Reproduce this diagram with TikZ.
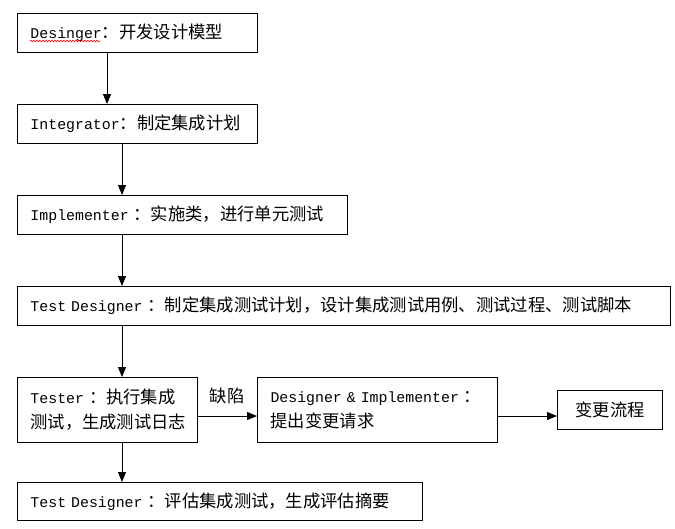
\documentclass[tikz,border=0pt]{standalone}
\usepackage{fontspec}
\setmainfont{Liberation Mono}[Scale=0.86]
\newfontfamily\cjk{Noto Sans CJK SC}
\usetikzlibrary{arrows.meta}
\usetikzlibrary{decorations.pathmorphing}
\tikzset{   stage/.style = {rectangle, draw = black, line width = 1pt, fill = white, anchor = north west, inner xsep = 13pt, inner ysep = 0pt, align = left, font = \fontsize{17.3}{25}\selectfont},
            flow/.style = {-{Triangle[length = 10pt, width = 8pt]}, line width = 1pt}}

\begin{document}
\begin{tikzpicture}[x = 1pt, y = -1pt]
                        \useasboundingbox (0, 0) rectangle (675, 528);
                        \node[stage, text width = 214pt, minimum height = 39pt] (design) at (17, 13) {Desinger{\cjk ：开发设计模型}};
                        \node[stage, text width = 214pt, minimum height = 39pt] (integ) at (17, 104) {Integrator{\cjk ：制定集成计划}};
                        \node[stage, text width = 304pt, minimum height = 39pt] (impl) at (17, 195) {Implementer {\cjk ：实施类，进行单元测试}};
                        \node[stage, text width = 627pt, minimum height = 39pt] (plan) at (17, 286) {Test Designer {\cjk ：制定集成测试计划，设计集成测试用例、测试过程、测试脚本}};
                        \node[stage, text width = 154pt, minimum height = 65pt] (tester) at (17, 377) {Tester {\cjk ：执行集成}\\{\cjk 测试，生成测试日志}};
                        \node[stage, text width = 214pt, minimum height = 65pt] (request) at (257, 377) {Designer \& Implementer {\cjk ：}\\{\cjk 提出变更请求}};
                        \node[stage, align = center, text width = 79pt, minimum height = 39pt] (change) at (557, 390) {{\cjk 变更流程}};
                        \node[stage, text width = 379pt, minimum height = 38pt] (review) at (17, 482) {Test Designer {\cjk ：评估集成测试，生成评估摘要}};
                        % spell-check mark
                        \draw[red, line width = 0.6pt, decorate, decoration = {snake, amplitude = 0.8pt, segment length = 3pt}] (30, 41) -- (100, 41);
                        % connectors
                        \coordinate (xa) at (107, 0);
                        \coordinate (xb) at (122, 0);
                        \coordinate (ya) at (0, 416);
                        \draw[flow] (design.south -| xa) -- (integ.north -| xa);
                        \draw[flow] (integ.south -| xb) -- (impl.north -| xb);
                        \draw[flow] (impl.south -| xb) -- (plan.north -| xb);
                        \draw[flow] (plan.south -| xb) -- (tester.north -| xb);
                        \draw[flow] (tester.east |- ya) -- (request.west |- ya);
                        \draw[flow] (request.east |- ya) -- (change.west |- ya);
                        \draw[flow] (tester.south -| xb) -- (review.north -| xb);
                        \node[font = \fontsize{17.3}{25}\selectfont\cjk] (defect) at (227, 396) {缺陷};
                      \end{tikzpicture}
\end{document}
